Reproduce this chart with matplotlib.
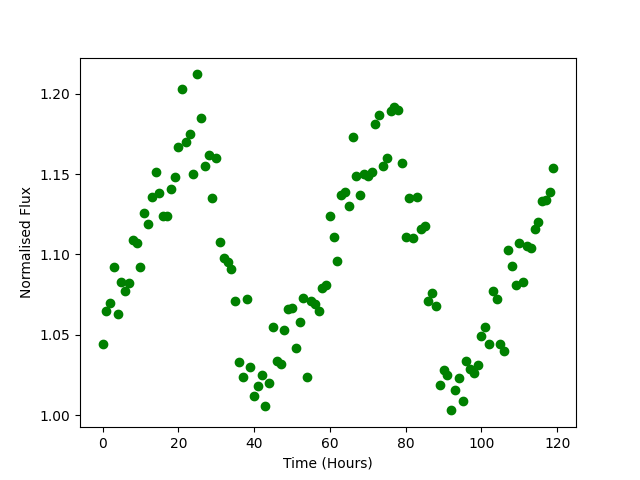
import matplotlib
matplotlib.use("Agg")
import matplotlib.pyplot as plt
import numpy as np

hours = list(range(120))
flux = [1.044, 1.065, 1.070, 1.092, 1.063, 1.083, 1.077, 1.082, 1.109, 1.107,
        1.092, 1.126, 1.119, 1.136, 1.151, 1.138, 1.124, 1.124, 1.141, 1.148,
        1.167, 1.203, 1.170, 1.175, 1.150, 1.212, 1.185, 1.155, 1.162, 1.135,
        1.160, 1.108, 1.098, 1.095, 1.091, 1.071, 1.033, 1.024, 1.072, 1.030,
        1.012, 1.018, 1.025, 1.006, 1.020, 1.055, 1.034, 1.032, 1.053, 1.066,
        1.067, 1.042, 1.058, 1.073, 1.024, 1.071, 1.069, 1.065, 1.079, 1.081,
        1.124, 1.111, 1.096, 1.137, 1.139, 1.130, 1.173, 1.149, 1.137, 1.150,
        1.149, 1.151, 1.181, 1.187, 1.155, 1.160, 1.189, 1.192, 1.190, 1.157,
        1.111, 1.135, 1.110, 1.136, 1.116, 1.118, 1.071, 1.076, 1.068, 1.019,
        1.028, 1.025, 1.003, 1.016, 1.023, 1.009, 1.034, 1.029, 1.026, 1.031,
        1.049, 1.055, 1.044, 1.077, 1.072, 1.044, 1.040, 1.103, 1.093, 1.081,
        1.107, 1.083, 1.105, 1.104, 1.116, 1.120, 1.133, 1.134, 1.139, 1.154]

fig, ax = plt.subplots(figsize=(6.4, 4.8), dpi=100)
ax.plot(hours, flux, 'go')
ax.set_xlabel("Time (Hours)")
ax.set_ylabel("Normalised Flux")
fig.savefig("out.png")
